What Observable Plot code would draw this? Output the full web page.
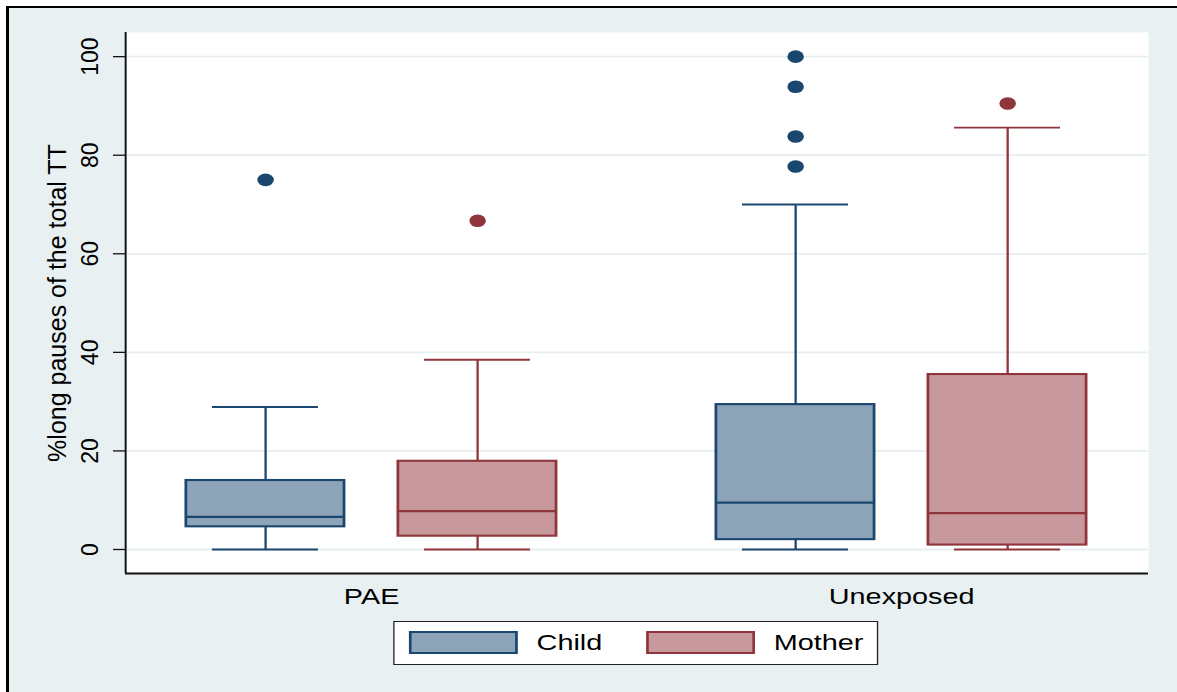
<!DOCTYPE html>
<html>
<head>
<meta charset="utf-8">
<script src="https://cdn.jsdelivr.net/npm/d3@7"></script>
<script src="https://cdn.jsdelivr.net/npm/@observablehq/plot@0.6"></script>
<style>
  html, body { margin: 0; padding: 0; background: #ffffff; }
  body { width: 1177px; height: 692px; overflow: hidden; position: relative; font-family: "Liberation Sans", Arial, sans-serif; }
  #frame { position: absolute; left: 6px; top: 6px; width: 1171px; height: 686px; box-sizing: border-box;
           border-left: 3px solid #000; border-top: 2px solid #000; background: #E8F0F2; }
  #chart { position: absolute; left: 0; top: 0; width: 898px; height: 692px; transform: scaleX(1.3107); transform-origin: 0 0; }
  #legend { position: absolute; left: 300px; top: 621px; width: 370px; height: 44px; box-sizing: border-box;
            background: #fff; border: 1px solid #222; }
  .sw { position: absolute; top: 9px; width: 83px; height: 23px; box-sizing: border-box; border: 2px solid; }
  .lt { position: absolute; top: 0; line-height: 42px; font-size: 22px; color: #000; }
</style>
</head>
<body>
<div id="frame"></div>
<div id="chart"></div>
<script>
// ---- data ----
const groups = ["PAE", "Unexposed"];
const series = ["Child", "Mother"];
const boxGroup = ["PAE", "PAE", "Unexposed", "Unexposed"];
const boxSeries = ["Child", "Mother", "Child", "Mother"];
const whiskerLow = [0, 0, 0, 0];
const q1 = [4.6, 2.7, 2.0, 0.9];
const median = [6.6, 7.8, 9.5, 7.4];
const q3 = [14.0, 17.9, 29.4, 35.5];
const whiskerHigh = [28.9, 38.5, 70.0, 85.6];
const outlierGroup = ["PAE", "PAE", "Unexposed", "Unexposed", "Unexposed", "Unexposed", "Unexposed"];
const outlierSeries = ["Child", "Mother", "Child", "Child", "Child", "Child", "Mother"];
const outlierValue = [75.0, 66.7, 100.0, 93.9, 83.8, 77.7, 90.5];
const yTicks = [0, 20, 40, 60, 80, 100];
const yTitle = "%long pauses of the total TT";

// ---- styles ----
const fillColor = {Child: "#8DA3B8", Mother: "#C8999C"};
const lineColor = {Child: "#1A476F", Mother: "#90353B"};
const gridColor = "#E6EEF0";
const stretch = 1.3107;

// slot positions: groups spaced 2.5 apart, series 1 apart
const pos = (g, s) => groups.indexOf(g) * 2.5 + series.indexOf(s) + 1;
const boxes = boxGroup.map((g, i) => ({
  group: g, series: boxSeries[i], pos: pos(g, boxSeries[i]),
  lo: whiskerLow[i], q1: q1[i], med: median[i], q3: q3[i], hi: whiskerHigh[i]
}));
const outliers = outlierGroup.map((g, i) => ({series: outlierSeries[i], pos: pos(g, outlierSeries[i]), v: outlierValue[i]}));
const groupCenters = groups.map(g => ({label: g, x: (pos(g, series[0]) + pos(g, series[series.length - 1])) / 2}));

const xDomain = [0.34, 5.165];
const yDomain = [-4.87, 104.9];
const boxHalf = 0.373, capHalf = 0.25, tickLen = 0.0566;

const plot = Plot.plot({
  width: 898, height: 610,
  marginLeft: 95.37, marginRight: 22.13, marginTop: 32, marginBottom: 37,
  x: {domain: xDomain, axis: null},
  y: {domain: yDomain, axis: null},
  color: {type: "identity"},
  style: {background: "transparent", fontFamily: "'Liberation Sans', Arial, sans-serif", overflow: "visible"},
  marks: [
    Plot.frame({fill: "white", stroke: "none"}),
    Plot.ruleY(yTicks, {stroke: gridColor, strokeWidth: 1.8}),
    // whiskers
    Plot.ruleX(boxes, {x: "pos", y1: "q3", y2: "hi", stroke: d => lineColor[d.series], strokeWidth: 1.75}),
    Plot.ruleX(boxes, {x: "pos", y1: "lo", y2: "q1", stroke: d => lineColor[d.series], strokeWidth: 1.75}),
    Plot.ruleY(boxes, {y: "hi", x1: d => d.pos - capHalf, x2: d => d.pos + capHalf, stroke: d => lineColor[d.series], strokeWidth: 1.9}),
    Plot.ruleY(boxes, {y: "lo", x1: d => d.pos - capHalf, x2: d => d.pos + capHalf, stroke: d => lineColor[d.series], strokeWidth: 1.9}),
    // boxes
    Plot.rect(boxes, {x1: d => d.pos - boxHalf, x2: d => d.pos + boxHalf, y1: "q1", y2: "q3",
      fill: d => fillColor[d.series], stroke: d => lineColor[d.series], strokeWidth: 2.1}),
    Plot.ruleY(boxes, {y: "med", x1: d => d.pos - boxHalf, x2: d => d.pos + boxHalf, stroke: d => lineColor[d.series], strokeWidth: 2.2}),
    // outliers
    Plot.dot(outliers, {x: "pos", y: "v", r: 6.3, fill: d => lineColor[d.series], stroke: "none"}),
    // axes
    Plot.ruleY([yDomain[0]], {stroke: "#111", strokeWidth: 1.8}),
    Plot.ruleX([xDomain[0]], {stroke: "#111", strokeWidth: 1.5}),
    Plot.ruleY(yTicks, {x1: xDomain[0] - tickLen, x2: xDomain[0], stroke: "#111", strokeWidth: 1.3}),
    Plot.text(yTicks, {y: d => d, text: d => String(d), frameAnchor: "left", dx: -26.7, rotate: -90,
      textAnchor: "middle", lineAnchor: "middle", fontSize: 23, fill: "#000"}),
    Plot.text([yTitle], {frameAnchor: "left", dx: -51.5, rotate: -90, textAnchor: "middle", lineAnchor: "middle", fontSize: 25, fill: "#000"}),
    Plot.text(groupCenters, {x: "x", text: "label", frameAnchor: "bottom", dy: 23, lineAnchor: "middle", fontSize: 22, fill: "#000"})
  ]
});
// rotated labels are not stretched in the reference: undo the horizontal stretch for them
plot.querySelectorAll("text").forEach(t => {
  const tr = t.getAttribute("transform");
  if (tr && tr.includes("rotate(-90)")) t.setAttribute("transform", tr + ` scale(1,${1 / stretch})`);
});
document.getElementById("chart").appendChild(plot);

// legend (below the svg)
const legend = document.createElement("div");
legend.id = "legend";
const swLeft = [10.7, 191.6], txtLeft = [108.4, 289.3];
series.forEach((s, i) => {
  const sw = document.createElement("div");
  sw.className = "sw";
  sw.style.left = swLeft[i] + "px";
  sw.style.background = fillColor[s];
  sw.style.borderColor = lineColor[s];
  legend.appendChild(sw);
  const t = document.createElement("div");
  t.className = "lt";
  t.style.left = txtLeft[i] + "px";
  t.textContent = s;
  legend.appendChild(t);
});
document.getElementById("chart").appendChild(legend);
</script>
</body>
</html>
